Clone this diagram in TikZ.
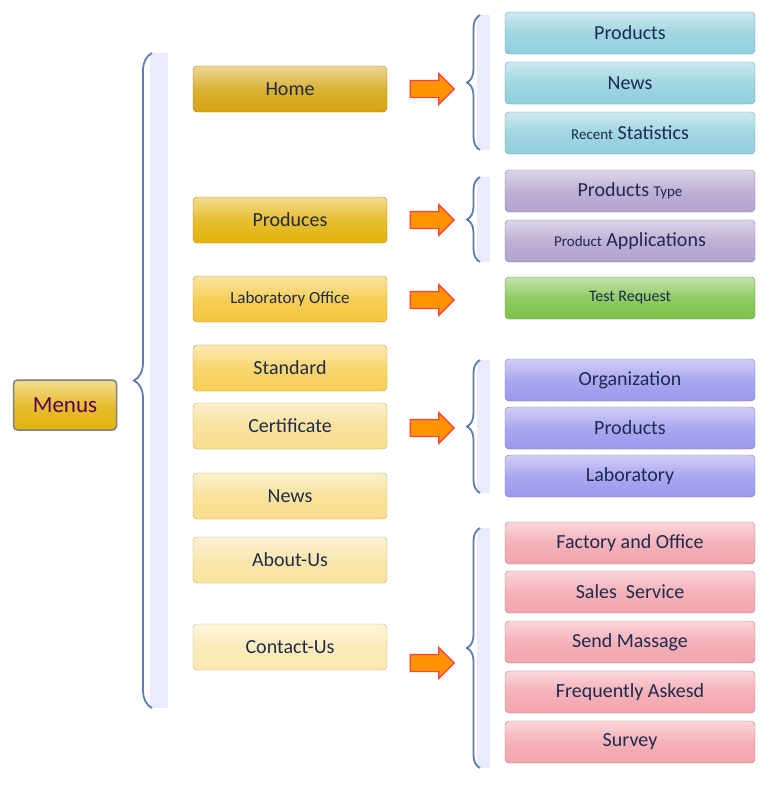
\documentclass[tikz,border=0pt]{standalone}
\usepackage{fontspec}
\setmainfont{Carlito}
\usetikzlibrary{shapes.arrows,decorations.pathreplacing}
\definecolor{txt}{HTML}{1F2A4F}
\definecolor{cA}{HTML}{D4A411}\definecolor{cB}{HTML}{E3B20C}\definecolor{cC}{HTML}{F5C53A}
\definecolor{cD}{HTML}{F7CF55}\definecolor{cE}{HTML}{F8D77A}\definecolor{cF}{HTML}{F9DD8C}
\definecolor{cG}{HTML}{FAE39E}\definecolor{cH}{HTML}{FBE8AE}
\definecolor{cyanb}{HTML}{8FCFDC}\definecolor{lav}{HTML}{B3A2CF}\definecolor{grn}{HTML}{7CC247}
\definecolor{vio}{HTML}{9B97EE}\definecolor{pnk}{HTML}{F3A4AC}\definecolor{brc}{HTML}{5B7DB0}
\newcommand{\sm}[1]{{\fontsize{15}{17}\selectfont #1}}
\tikzset{
 box/.style={rounded corners=4pt, draw=#1!75!black, top color=#1!45!white, bottom color=#1,
   middle color=#1!85!white, text=txt, font=\fontsize{20}{22}\selectfont, inner sep=0pt},
 lbox/.style={box=#1, minimum width=194pt, minimum height=46pt},
 rbox/.style={box=#1, minimum width=250pt, minimum height=42pt},
 arr/.style={single arrow, draw=red!75, line width=1.2pt, fill=orange!85!yellow,
   minimum height=44pt, single arrow head extend=7pt, inner sep=8pt},
 br/.style={draw=brc, line width=1.8pt, decorate, decoration={brace, amplitude=13pt}},
}
\begin{document}
\begin{tikzpicture}[x=1pt,y=-1pt]
\useasboundingbox (0,0) rectangle (768,788);
% Menus
\node[box=cB, draw=gray, line width=1.5pt, minimum width=103pt, minimum height=50pt, text=violet!70!black, font=\fontsize{23}{25}\selectfont] (menus) at (65,405) {Menus};
% big brace
\fill[blue!8] (150,53) rectangle (168,708);
\draw[br, decoration={amplitude=18pt}] (152,708) -- (152,53);
% right strips
\foreach \a/\b in {15/150,177/262,360/493,528/768}{\fill[blue!8] (477,\a) rectangle (490,\b); \draw[br] (480,\b) -- (480,\a);}
% left boxes
\node[lbox=cA] (home) at (290,89) {Home};
\node[lbox=cB] (prod) at (290,220) {Produces};
\node[lbox=cC, font=\fontsize{17}{19}\selectfont] (lab) at (290,299) {Laboratory Office};
\node[lbox=cD] (std) at (290,368) {Standard};
\node[lbox=cF] (cert) at (290,426) {Certificate};
\node[lbox=cF] (news) at (290,496) {News};
\node[lbox=cG] (about) at (290,560) {About-Us};
\node[lbox=cH] (contact) at (290,647) {Contact-Us};
% arrows
\node[arr] (a1) at (428,89) {};
\node[arr] (a2) at (428,220) {};
\node[arr] (a3) at (428,300) {};
\node[arr] (a4) at (428,428) {};
\node[arr] (a5) at (428,663) {};
% right boxes
\node[rbox=cyanb] (r1) at (630,33) {Products};
\node[rbox=cyanb] (r2) at (630,83) {News};
\node[rbox=cyanb] (r3) at (630,133) {\sm{Recent} Statistics};
\node[rbox=lav] (r4) at (630,191) {Products \sm{Type}};
\node[rbox=lav] (r5) at (630,241) {\sm{Product} Applications};
\node[rbox=grn, font=\fontsize{16}{18}\selectfont] (r6) at (630,298) {Test Request};
\node[rbox=vio] (r7) at (630,380) {Organization};
\node[rbox=vio] (r8) at (630,428) {Products};
\node[rbox=vio] (r9) at (630,476) {Laboratory};
\node[rbox=pnk] (r10) at (630,543) {Factory and Office};
\node[rbox=pnk] (r11) at (630,592) {Sales~ Service};
\node[rbox=pnk] (r12) at (630,642) {Send Massage};
\node[rbox=pnk] (r13) at (630,692) {Frequently Askesd};
\node[rbox=pnk] (r14) at (630,742) {Survey};
\end{tikzpicture}
\end{document}
